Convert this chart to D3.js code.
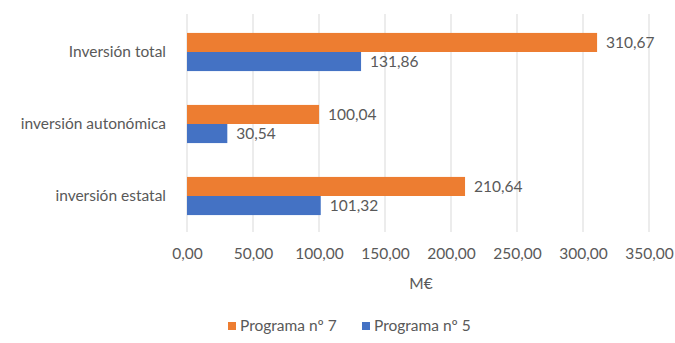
<!DOCTYPE html>
<html><head><meta charset="utf-8">
<script src="https://cdn.jsdelivr.net/npm/d3@7"></script>
<style>body{margin:0;background:#fff}svg{display:block}text{font-family:Lato,"Open Sans",sans-serif;fill:#595959}</style>
</head><body><svg id="c" width="675" height="343"></svg>
<script>
const categories = ["Inversión total","inversión autonómica","inversión estatal"];
const seriesNames = ["Programa nº 7","Programa nº 5"];
const programa7 = [310.67, 100.04, 210.64];
const programa5 = [131.86, 30.54, 101.32];
const xTicks = [0,50,100,150,200,250,300,350];
const colors = ["#ED7D31","#4472C4"];

(function(){
const svg = d3.select("#c");
const fs = 15.5;
const mLeft = 187, mRight = 649, mTop = 16, mBottom = 232;
const x = d3.scaleLinear().domain([0,350]).range([mLeft,mRight]);
const y = d3.scaleBand().domain(categories).range([mTop,mBottom]).paddingInner(0.47).paddingOuter(0.235);
const y2 = d3.scaleBand().domain(seriesNames).range([0,y.bandwidth()]);
const fmt = v => d3.format(".2f")(v).replace(".", ",");

svg.append("g").selectAll("line").data(xTicks).join("line")
  .attr("x1",d=>x(d)).attr("x2",d=>x(d)).attr("y1",mTop-2).attr("y2",mBottom)
  .attr("stroke","#d9d9d9").attr("stroke-width",1);

const series = [programa7, programa5];
series.forEach((vals,si)=>{
  const g = svg.append("g");
  g.selectAll("rect").data(vals).join("rect")
    .attr("x",x(0)).attr("y",(d,i)=>y(categories[i])+y2(seriesNames[si]))
    .attr("width",d=>x(d)-x(0)).attr("height",y2.bandwidth())
    .attr("fill",colors[si]);
  g.selectAll("text").data(vals).join("text")
    .attr("x",d=>x(d)+9).attr("y",(d,i)=>y(categories[i])+y2(seriesNames[si])+y2.bandwidth()/2)
    .attr("dy","0.35em").attr("font-size",fs).text(fmt);
});

const xAxis = d3.axisBottom(x).tickValues(xTicks).tickSize(0).tickFormat(fmt);
const ax = svg.append("g").attr("transform",`translate(0,${mBottom})`).call(xAxis);
ax.select(".domain").remove();
ax.selectAll("text").attr("font-size",fs).attr("dy","0").attr("y",27).style("font-family","Lato").attr("fill","#595959");

const yAxis = d3.axisLeft(y).tickSize(0).tickPadding(0);
const ay = svg.append("g").attr("transform",`translate(166,0)`).call(yAxis);
ay.select(".domain").remove();
ay.selectAll("text").attr("font-size",fs).style("font-family","Lato").attr("fill","#595959");

svg.append("text").attr("x",(mLeft+mRight)/2+3).attr("y",289).attr("text-anchor","middle").attr("font-size",fs).text("M€");

const leg = svg.append("g");
const legX = [228, 362];
seriesNames.forEach((n,i)=>{
  leg.append("rect").attr("x",legX[i]).attr("y",322).attr("width",8).attr("height",8).attr("fill",colors[i]);
  leg.append("text").attr("x",legX[i]+12).attr("y",331).attr("font-size",fs).text(n);
});
})();
</script></body></html>
